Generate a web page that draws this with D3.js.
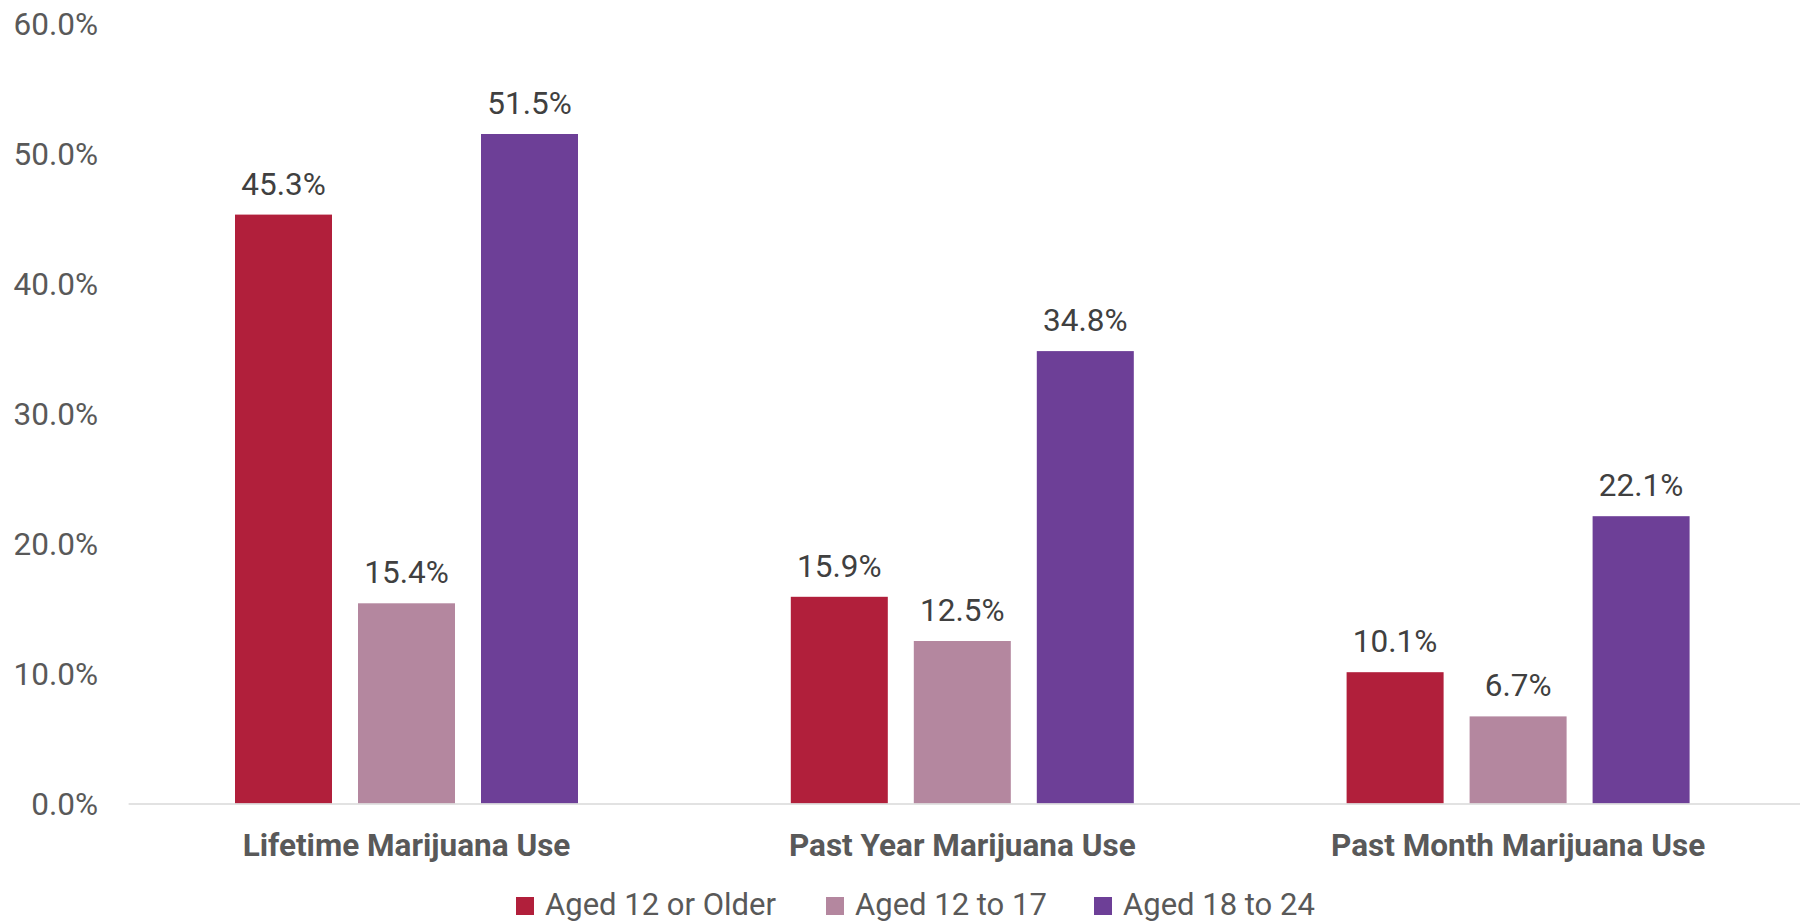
<!DOCTYPE html>
<html><head><meta charset="utf-8">
<script src="https://cdn.jsdelivr.net/npm/d3@7"></script>
<style>html,body{margin:0;padding:0;background:#fff;}svg{display:block;font-family:Roboto,"Noto Sans",sans-serif;}</style>
</head><body>
<svg id="chart" width="1800" height="922"></svg>
<script>
const categories = ["Lifetime Marijuana Use", "Past Year Marijuana Use", "Past Month Marijuana Use"];
const seriesNames = ["Aged 12 or Older", "Aged 12 to 17", "Aged 18 to 24"];
const seriesColors = ["#B11F3B", "#B4879F", "#6D3F97"];
const aged12OrOlder = [45.3, 15.9, 10.1];
const aged12to17 = [15.4, 12.5, 6.7];
const aged18to24 = [51.5, 34.8, 22.1];
const yTicks = [0, 10, 20, 30, 40, 50, 60];

const seriesValues = [aged12OrOlder, aged12to17, aged18to24];
const svg = d3.select("#chart");
const x0 = d3.scaleBand().domain(categories).range([128.6, 1796]).paddingInner(0).paddingOuter(0);
const pad = (x0.bandwidth() - 343) / 2;
const x1 = d3.scaleBand().domain(seriesNames).range([pad, x0.bandwidth() - pad]).paddingInner(26/123).paddingOuter(0);
const y = d3.scaleLinear().domain([0, 60]).range([803.5, 23.5]);

// y tick labels
svg.append("g").selectAll("text").data(yTicks).join("text")
  .attr("x", 98).attr("y", d => y(d)).attr("dy", "0.36em")
  .attr("text-anchor", "end").attr("fill", "#595959")
  .style("font-size", "31.5px").text(d => d.toFixed(1) + "%");

// bars
const groups = svg.append("g").selectAll("g").data(categories).join("g")
  .attr("transform", d => `translate(${x0(d)},0)`);
groups.selectAll("rect").data((c, ci) => seriesNames.map((s, si) => ({s, si, v: seriesValues[si][ci]})))
  .join("rect")
  .attr("x", d => x1(d.s)).attr("width", x1.bandwidth())
  .attr("y", d => y(d.v)).attr("height", d => y(0) - y(d.v))
  .attr("fill", d => seriesColors[d.si]);
groups.selectAll("text.val").data((c, ci) => seriesNames.map((s, si) => ({s, si, v: seriesValues[si][ci]})))
  .join("text").attr("class", "val")
  .attr("x", d => x1(d.s) + x1.bandwidth() / 2).attr("y", d => y(d.v) - 20)
  .attr("text-anchor", "middle").attr("fill", "#404040")
  .style("font-size", "31.5px").text(d => d.v.toFixed(1) + "%");

// axis line
svg.append("line").attr("x1", 128.6).attr("x2", 1800).attr("y1", y(0) + 0.5).attr("y2", y(0) + 0.5)
  .attr("stroke", "#D9D9D9").attr("stroke-width", 1.5);

// category labels
svg.append("g").selectAll("text").data(categories).join("text")
  .attr("x", d => x0(d) + x0.bandwidth() / 2).attr("y", 856)
  .attr("text-anchor", "middle").attr("fill", "#595959")
  .style("font-size", "31.5px").style("font-weight", "bold").text(d => d);

// legend
const legendX = [516, 826, 1094];
const lg = svg.append("g").selectAll("g").data(seriesNames).join("g")
  .attr("transform", (d, i) => `translate(${legendX[i]},897)`);
lg.append("rect").attr("width", 18).attr("height", 18).attr("fill", (d, i) => seriesColors[i]);
lg.append("text").attr("x", 29).attr("y", 18).attr("fill", "#595959")
  .style("font-size", "31px").text(d => d);
</script>
</body></html>
